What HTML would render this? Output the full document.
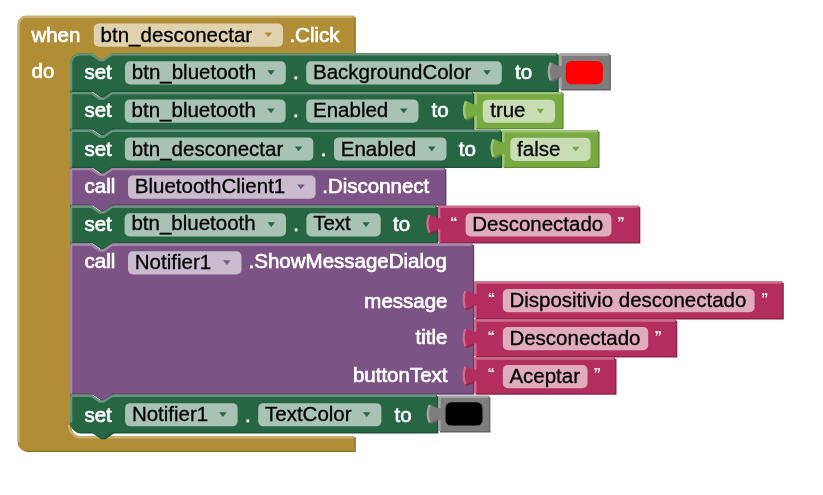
<!DOCTYPE html>
<html><head><meta charset="utf-8"><style>
html,body{margin:0;padding:0;background:#fff;}
body{width:823px;height:495px;overflow:hidden;}
svg{display:block;font-family:"Liberation Sans",sans-serif;filter:blur(0.45px);}
</style></head><body>
<svg width="823" height="495" viewBox="0 0 823 495">
<path d="M 17.6,24.3 A 8.5,8.5 0 0,1 26.1,15.8 H 354.4 V 53.2 H 112.5 l -8.4,5.8 -4.2,0 -8.4,-5.8 H 80 A 10,10 0 0,0 70,63.2 V 425 A 11.2,11.2 0 0,0 81.2,436.2 H 354.4 V 450.7 H 26.1 A 8.5,8.5 0 0,1 17.6,442.2 Z" fill="#8E722A" transform="translate(1.4,1.4)"/>
<path d="M 17.6,24.3 A 8.5,8.5 0 0,1 26.1,15.8 H 354.4 V 53.2 H 112.5 l -8.4,5.8 -4.2,0 -8.4,-5.8 H 80 A 10,10 0 0,0 70,63.2 V 425 A 11.2,11.2 0 0,0 81.2,436.2 H 354.4 V 450.7 H 26.1 A 8.5,8.5 0 0,1 17.6,442.2 Z" fill="#B18E35"/>
<path d="M 18.75,24.3 A 7.35,7.35 0 0,1 26.1,16.95 H 353.25 M 18.75,24.3 V 442.2 M 68.85,425 A 12.35,12.35 0 0,0 81.2,437.35 H 353.25" fill="none" stroke="#C8B072" stroke-width="2.3"/>
<text x="31.4" y="41.6" fill="#fff" font-size="20.5" stroke="#fff" stroke-width="0.65">when</text>
<rect x="93.8" y="23.5" width="189.2" height="23.2" rx="5" ry="5" fill="#fff" fill-opacity="0.6"/>
<text x="100.6" y="41.7" fill="#000" font-size="20.5" stroke="#000" stroke-width="0.3">btn_desconectar</text>
<path d="M 264.5,32.5 h 7.6 l -3.8,4.8 z" fill="#B18E35"/>
<text x="289.4" y="41.6" fill="#fff" font-size="20.5" stroke="#fff" stroke-width="0.65">.Click</text>
<text x="31.6" y="78.4" fill="#fff" font-size="20.5" stroke="#fff" stroke-width="0.65">do</text>
<path d="M 70,63.2 A 10,10 0 0,1 80,53.2 H 91.5 l 8.4,5.8 4.2,0 8.4,-5.8 H 557.4 V 90.55 H 112.5 l -8.4,5.8 -4.2,0 -8.4,-5.8 H 70 Z" fill="#1E5236" transform="translate(1.4,1.4)"/>
<path d="M 70,63.2 A 10,10 0 0,1 80,53.2 H 91.5 l 8.4,5.8 4.2,0 8.4,-5.8 H 557.4 V 90.55 H 112.5 l -8.4,5.8 -4.2,0 -8.4,-5.8 H 70 Z" fill="#266643"/>
<path d="M 71.15,63.2 A 8.85,8.85 0 0,1 80,54.35 H 91.2 l 8.6,5.8 3.8,0 8.6,-5.8 H 556.25 M 71.15,63.2 V 90.55" fill="none" stroke="#67947B" stroke-width="2.3"/>
<text x="84.4" y="79.4" fill="#fff" font-size="20.5" stroke="#fff" stroke-width="0.65">set</text>
<rect x="125" y="61.2" width="160.8" height="23.2" rx="5" ry="5" fill="#fff" fill-opacity="0.6"/>
<text x="131.8" y="79.4" fill="#000" font-size="20.5" stroke="#000" stroke-width="0.3">btn_bluetooth</text>
<path d="M 267.3,70.2 h 7.6 l -3.8,4.8 z" fill="#266643"/>
<text x="293.1" y="79.4" fill="#fff" font-size="20.5" stroke="#fff" stroke-width="0.65">.</text>
<rect x="306.2" y="61.2" width="195.6" height="23.2" rx="5" ry="5" fill="#fff" fill-opacity="0.6"/>
<text x="313" y="79.4" fill="#000" font-size="20.5" stroke="#000" stroke-width="0.3">BackgroundColor</text>
<path d="M 483.3,70.2 h 7.6 l -3.8,4.8 z" fill="#266643"/>
<text x="515.1" y="79.4" fill="#fff" font-size="20.5" stroke="#fff" stroke-width="0.65">to</text>
<path d="M 559.4,53.6 H 609.5 V 89.1 H 559.4 V 77.5 L 558.2,77.5 L 550,81.1 Q 546,71.6 550,62.1 L 558.2,65.8 L 559.4,65.8 Z" fill="#646464" transform="translate(1.4,1.4)"/>
<path d="M 559.4,53.6 H 609.5 V 89.1 H 559.4 V 77.5 L 558.2,77.5 L 550,81.1 Q 546,71.6 550,62.1 L 558.2,65.8 L 559.4,65.8 Z" fill="#7D7D7D"/>
<path d="M 560.55,89.1 V 77.5 M 560.55,65.8 V 54.75 H 608.35 M 550.6,63 Q 547,71.6 550.6,80.2" fill="none" stroke="#A4A4A4" stroke-width="2.3"/>
<rect x="565.8" y="61" width="37" height="23.2" rx="5.6" ry="5.6" fill="#FF0000"/>
<path d="M 70,91.95 H 91.5 l 8.4,5.8 4.2,0 8.4,-5.8 H 473.2 V 128.4 H 112.5 l -8.4,5.8 -4.2,0 -8.4,-5.8 H 70 Z" fill="#1E5236" transform="translate(1.4,1.4)"/>
<path d="M 70,91.95 H 91.5 l 8.4,5.8 4.2,0 8.4,-5.8 H 473.2 V 128.4 H 112.5 l -8.4,5.8 -4.2,0 -8.4,-5.8 H 70 Z" fill="#266643"/>
<path d="M 71.15,93.1 H 91.2 l 8.6,5.8 3.8,0 8.6,-5.8 H 472.05 M 71.15,93.1 V 128.4" fill="none" stroke="#67947B" stroke-width="2.3"/>
<text x="84.4" y="117.05" fill="#fff" font-size="20.5" stroke="#fff" stroke-width="0.65">set</text>
<rect x="124.8" y="99.55" width="160.8" height="23.2" rx="5" ry="5" fill="#fff" fill-opacity="0.6"/>
<text x="131.6" y="116.55" fill="#000" font-size="20.5" stroke="#000" stroke-width="0.3">btn_bluetooth</text>
<path d="M 267.1,108.55 h 7.6 l -3.8,4.8 z" fill="#266643"/>
<text x="293.1" y="117.05" fill="#fff" font-size="20.5" stroke="#fff" stroke-width="0.65">.</text>
<rect x="306.2" y="99.55" width="112.3" height="23.2" rx="5" ry="5" fill="#fff" fill-opacity="0.6"/>
<text x="313" y="116.55" fill="#000" font-size="20.5" stroke="#000" stroke-width="0.3">Enabled</text>
<path d="M 400,108.55 h 7.6 l -3.8,4.8 z" fill="#266643"/>
<text x="431.6" y="117.05" fill="#fff" font-size="20.5" stroke="#fff" stroke-width="0.65">to</text>
<path d="M 474.6,91.95 H 562.2 V 127.95 H 474.6 V 115.85 L 473.4,115.85 L 465.2,119.45 Q 461.2,109.95 465.2,100.45 L 473.4,104.15 L 474.6,104.15 Z" fill="#5F8934" transform="translate(1.4,1.4)"/>
<path d="M 474.6,91.95 H 562.2 V 127.95 H 474.6 V 115.85 L 473.4,115.85 L 465.2,119.45 Q 461.2,109.95 465.2,100.45 L 473.4,104.15 L 474.6,104.15 Z" fill="#77AB41"/>
<path d="M 475.75,127.95 V 115.85 M 475.75,104.15 V 93.1 H 561.05 M 465.8,101.35 Q 462.2,109.95 465.8,118.55" fill="none" stroke="#A0C47A" stroke-width="2.3"/>
<rect x="482.8" y="99.65" width="72.2" height="23.2" rx="5" ry="5" fill="#fff" fill-opacity="0.6"/>
<text x="490.2" y="116.75" fill="#000" font-size="20.5" stroke="#000" stroke-width="0.3">true</text>
<path d="M 536.5,108.65 h 7.6 l -3.8,4.8 z" fill="#77AB41"/>
<path d="M 70,129.8 H 91.5 l 8.4,5.8 4.2,0 8.4,-5.8 H 500.8 V 166.5 H 112.5 l -8.4,5.8 -4.2,0 -8.4,-5.8 H 70 Z" fill="#1E5236" transform="translate(1.4,1.4)"/>
<path d="M 70,129.8 H 91.5 l 8.4,5.8 4.2,0 8.4,-5.8 H 500.8 V 166.5 H 112.5 l -8.4,5.8 -4.2,0 -8.4,-5.8 H 70 Z" fill="#266643"/>
<path d="M 71.15,130.95 H 91.2 l 8.6,5.8 3.8,0 8.6,-5.8 H 499.65 M 71.15,130.95 V 166.5" fill="none" stroke="#67947B" stroke-width="2.3"/>
<text x="84.4" y="155.9" fill="#fff" font-size="20.5" stroke="#fff" stroke-width="0.65">set</text>
<rect x="124.9" y="137.4" width="188.4" height="23.2" rx="5" ry="5" fill="#fff" fill-opacity="0.6"/>
<text x="131.7" y="155.6" fill="#000" font-size="20.5" stroke="#000" stroke-width="0.3">btn_desconectar</text>
<path d="M 294.8,146.4 h 7.6 l -3.8,4.8 z" fill="#266643"/>
<text x="320.8" y="155.9" fill="#fff" font-size="20.5" stroke="#fff" stroke-width="0.65">.</text>
<rect x="334" y="137.4" width="112.5" height="23.2" rx="5" ry="5" fill="#fff" fill-opacity="0.6"/>
<text x="340.8" y="155.6" fill="#000" font-size="20.5" stroke="#000" stroke-width="0.3">Enabled</text>
<path d="M 428,146.4 h 7.6 l -3.8,4.8 z" fill="#266643"/>
<text x="458.8" y="155.9" fill="#fff" font-size="20.5" stroke="#fff" stroke-width="0.65">to</text>
<path d="M 502.2,130.1 H 598.2 V 166.7 H 502.2 V 154 L 501,154 L 492.8,157.6 Q 488.8,148.1 492.8,138.6 L 501,142.3 L 502.2,142.3 Z" fill="#5F8934" transform="translate(1.4,1.4)"/>
<path d="M 502.2,130.1 H 598.2 V 166.7 H 502.2 V 154 L 501,154 L 492.8,157.6 Q 488.8,148.1 492.8,138.6 L 501,142.3 L 502.2,142.3 Z" fill="#77AB41"/>
<path d="M 503.35,166.7 V 154 M 503.35,142.3 V 131.25 H 597.05 M 493.4,139.5 Q 489.8,148.1 493.4,156.7" fill="none" stroke="#A0C47A" stroke-width="2.3"/>
<rect x="510.3" y="137.8" width="80.2" height="23.2" rx="5" ry="5" fill="#fff" fill-opacity="0.6"/>
<text x="517.1" y="155.6" fill="#000" font-size="20.5" stroke="#000" stroke-width="0.3">false</text>
<path d="M 572,146.8 h 7.6 l -3.8,4.8 z" fill="#77AB41"/>
<path d="M 70,167.9 H 91.5 l 8.4,5.8 4.2,0 8.4,-5.8 H 445 V 204.3 H 112.5 l -8.4,5.8 -4.2,0 -8.4,-5.8 H 70 Z" fill="#63426A" transform="translate(1.4,1.4)"/>
<path d="M 70,167.9 H 91.5 l 8.4,5.8 4.2,0 8.4,-5.8 H 445 V 204.3 H 112.5 l -8.4,5.8 -4.2,0 -8.4,-5.8 H 70 Z" fill="#7C5385"/>
<path d="M 71.15,169.05 H 91.2 l 8.6,5.8 3.8,0 8.6,-5.8 H 443.85 M 71.15,169.05 V 204.3" fill="none" stroke="#A387AA" stroke-width="2.3"/>
<text x="84.6" y="193.25" fill="#fff" font-size="20.5" stroke="#fff" stroke-width="0.65">call</text>
<rect x="128" y="175.5" width="187.6" height="23.2" rx="5" ry="5" fill="#fff" fill-opacity="0.6"/>
<text x="134.8" y="193.4" fill="#000" font-size="20.5" stroke="#000" stroke-width="0.3">BluetoothClient1</text>
<path d="M 297.1,184.5 h 7.6 l -3.8,4.8 z" fill="#7C5385"/>
<text x="322.2" y="193.25" fill="#fff" font-size="20.5" stroke="#fff" stroke-width="0.65">.Disconnect</text>
<path d="M 70,205.7 H 91.5 l 8.4,5.8 4.2,0 8.4,-5.8 H 436.6 V 242.2 H 112.5 l -8.4,5.8 -4.2,0 -8.4,-5.8 H 70 Z" fill="#1E5236" transform="translate(1.4,1.4)"/>
<path d="M 70,205.7 H 91.5 l 8.4,5.8 4.2,0 8.4,-5.8 H 436.6 V 242.2 H 112.5 l -8.4,5.8 -4.2,0 -8.4,-5.8 H 70 Z" fill="#266643"/>
<path d="M 71.15,206.85 H 91.2 l 8.6,5.8 3.8,0 8.6,-5.8 H 435.45 M 71.15,206.85 V 242.2" fill="none" stroke="#67947B" stroke-width="2.3"/>
<text x="84.4" y="230.8" fill="#fff" font-size="20.5" stroke="#fff" stroke-width="0.65">set</text>
<rect x="124.6" y="213.3" width="161.4" height="23.2" rx="5" ry="5" fill="#fff" fill-opacity="0.6"/>
<text x="131.4" y="230.3" fill="#000" font-size="20.5" stroke="#000" stroke-width="0.3">btn_bluetooth</text>
<path d="M 267.5,222.3 h 7.6 l -3.8,4.8 z" fill="#266643"/>
<text x="293.3" y="230.8" fill="#fff" font-size="20.5" stroke="#fff" stroke-width="0.65">.</text>
<rect x="306.4" y="213.3" width="74.3" height="23.2" rx="5" ry="5" fill="#fff" fill-opacity="0.6"/>
<text x="313.2" y="230.3" fill="#000" font-size="20.5" stroke="#000" stroke-width="0.3">Text</text>
<path d="M 362.2,222.3 h 7.6 l -3.8,4.8 z" fill="#266643"/>
<text x="393.1" y="230.8" fill="#fff" font-size="20.5" stroke="#fff" stroke-width="0.65">to</text>
<path d="M 438,205.7 H 638.9 V 242 H 438 V 229.6 L 436.8,229.6 L 428.6,233.2 Q 424.6,223.7 428.6,214.2 L 436.8,217.9 L 438,217.9 Z" fill="#8F244B" transform="translate(1.4,1.4)"/>
<path d="M 438,205.7 H 638.9 V 242 H 438 V 229.6 L 436.8,229.6 L 428.6,233.2 Q 424.6,223.7 428.6,214.2 L 436.8,217.9 L 438,217.9 Z" fill="#B32D5E"/>
<path d="M 439.15,242 V 229.6 M 439.15,217.9 V 206.85 H 637.75 M 429.2,215.1 Q 425.6,223.7 429.2,232.3" fill="none" stroke="#CA6C8E" stroke-width="2.3"/>
<text x="450.2" y="226.7" fill="#fff" font-size="14.5" font-weight="bold">“</text>
<rect x="465.6" y="213.3" width="145.8" height="23.2" rx="5" ry="5" fill="#fff" fill-opacity="0.6"/>
<text x="472.2" y="230.7" fill="#000" font-size="20.5" stroke="#000" stroke-width="0.3">Desconectado</text>
<text x="617.3" y="226.7" fill="#fff" font-size="14.5" font-weight="bold">”</text>
<path d="M 70,243.6 H 91.5 l 8.4,5.8 4.2,0 8.4,-5.8 H 472.8 V 393.35 H 112.5 l -8.4,5.8 -4.2,0 -8.4,-5.8 H 70 Z" fill="#63426A" transform="translate(1.4,1.4)"/>
<path d="M 70,243.6 H 91.5 l 8.4,5.8 4.2,0 8.4,-5.8 H 472.8 V 393.35 H 112.5 l -8.4,5.8 -4.2,0 -8.4,-5.8 H 70 Z" fill="#7C5385"/>
<path d="M 71.15,244.75 H 91.2 l 8.6,5.8 3.8,0 8.6,-5.8 H 471.65 M 71.15,244.75 V 393.35" fill="none" stroke="#A387AA" stroke-width="2.3"/>
<text x="84.6" y="267.9" fill="#fff" font-size="20.5" stroke="#fff" stroke-width="0.65">call</text>
<rect x="128" y="251.2" width="113.5" height="23.2" rx="5" ry="5" fill="#fff" fill-opacity="0.6"/>
<text x="134.8" y="268.8" fill="#000" font-size="20.5" stroke="#000" stroke-width="0.3">Notifier1</text>
<path d="M 223,260.2 h 7.6 l -3.8,4.8 z" fill="#7C5385"/>
<text x="248.6" y="267.9" fill="#fff" font-size="20.5" stroke="#fff" stroke-width="0.65">.ShowMessageDialog</text>
<text x="447.5" y="307.6" fill="#fff" font-size="20.5" text-anchor="end" stroke="#fff" stroke-width="0.65">message</text>
<text x="447.5" y="344.2" fill="#fff" font-size="20.5" text-anchor="end" stroke="#fff" stroke-width="0.65">title</text>
<text x="447.5" y="382" fill="#fff" font-size="20.5" text-anchor="end" stroke="#fff" stroke-width="0.65">buttonText</text>
<path d="M 474.2,281.5 H 782.4 V 318.1 H 474.2 V 305.4 L 473,305.4 L 464.8,309 Q 460.8,299.5 464.8,290 L 473,293.7 L 474.2,293.7 Z" fill="#8F244B" transform="translate(1.4,1.4)"/>
<path d="M 474.2,281.5 H 782.4 V 318.1 H 474.2 V 305.4 L 473,305.4 L 464.8,309 Q 460.8,299.5 464.8,290 L 473,293.7 L 474.2,293.7 Z" fill="#B32D5E"/>
<path d="M 475.35,318.1 V 305.4 M 475.35,293.7 V 282.65 H 781.25 M 465.4,290.9 Q 461.8,299.5 465.4,308.1" fill="none" stroke="#CA6C8E" stroke-width="2.3"/>
<text x="487.7" y="302.5" fill="#fff" font-size="14.5" font-weight="bold">“</text>
<rect x="502.8" y="289.1" width="251.8" height="23.2" rx="5" ry="5" fill="#fff" fill-opacity="0.6"/>
<text x="509.4" y="307.3" fill="#000" font-size="20.5" stroke="#000" stroke-width="0.3">Dispositivio desconectado</text>
<text x="761" y="302.5" fill="#fff" font-size="14.5" font-weight="bold">”</text>
<path d="M 474.2,319.5 H 675.9 V 356 H 474.2 V 343.4 L 473,343.4 L 464.8,347 Q 460.8,337.5 464.8,328 L 473,331.7 L 474.2,331.7 Z" fill="#8F244B" transform="translate(1.4,1.4)"/>
<path d="M 474.2,319.5 H 675.9 V 356 H 474.2 V 343.4 L 473,343.4 L 464.8,347 Q 460.8,337.5 464.8,328 L 473,331.7 L 474.2,331.7 Z" fill="#B32D5E"/>
<path d="M 475.35,356 V 343.4 M 475.35,331.7 V 320.65 H 674.75 M 465.4,328.9 Q 461.8,337.5 465.4,346.1" fill="none" stroke="#CA6C8E" stroke-width="2.3"/>
<text x="487.6" y="340.5" fill="#fff" font-size="14.5" font-weight="bold">“</text>
<rect x="502.8" y="327.1" width="145.4" height="23.2" rx="5" ry="5" fill="#fff" fill-opacity="0.6"/>
<text x="509.4" y="345.3" fill="#000" font-size="20.5" stroke="#000" stroke-width="0.3">Desconectado</text>
<text x="654.5" y="340.5" fill="#fff" font-size="14.5" font-weight="bold">”</text>
<path d="M 474.2,357.4 H 615.1 V 393.35 H 474.2 V 381.3 L 473,381.3 L 464.8,384.9 Q 460.8,375.4 464.8,365.9 L 473,369.6 L 474.2,369.6 Z" fill="#8F244B" transform="translate(1.4,1.4)"/>
<path d="M 474.2,357.4 H 615.1 V 393.35 H 474.2 V 381.3 L 473,381.3 L 464.8,384.9 Q 460.8,375.4 464.8,365.9 L 473,369.6 L 474.2,369.6 Z" fill="#B32D5E"/>
<path d="M 475.35,393.35 V 381.3 M 475.35,369.6 V 358.55 H 613.95 M 465.4,366.8 Q 461.8,375.4 465.4,384" fill="none" stroke="#CA6C8E" stroke-width="2.3"/>
<text x="487.6" y="378.4" fill="#fff" font-size="14.5" font-weight="bold">“</text>
<rect x="502.8" y="365" width="84.7" height="23.2" rx="5" ry="5" fill="#fff" fill-opacity="0.6"/>
<text x="509.4" y="382.7" fill="#000" font-size="20.5" stroke="#000" stroke-width="0.3">Aceptar</text>
<text x="593.4" y="378.4" fill="#fff" font-size="14.5" font-weight="bold">”</text>
<path d="M 70,394.75 H 91.5 l 8.4,5.8 4.2,0 8.4,-5.8 H 437 V 432.1 H 112.5 l -8.4,5.8 -4.2,0 -8.4,-5.8 H 79.5 A 9.5,9.5 0 0,1 70,422.6 Z" fill="#1E5236" transform="translate(1.4,1.4)"/>
<path d="M 70,394.75 H 91.5 l 8.4,5.8 4.2,0 8.4,-5.8 H 437 V 432.1 H 112.5 l -8.4,5.8 -4.2,0 -8.4,-5.8 H 79.5 A 9.5,9.5 0 0,1 70,422.6 Z" fill="#266643"/>
<path d="M 71.15,395.9 H 91.2 l 8.6,5.8 3.8,0 8.6,-5.8 H 435.85 M 71.15,395.9 V 422.6" fill="none" stroke="#67947B" stroke-width="2.3"/>
<text x="84.4" y="421.75" fill="#fff" font-size="20.5" stroke="#fff" stroke-width="0.65">set</text>
<rect x="125.1" y="403.15" width="112.5" height="23.2" rx="5" ry="5" fill="#fff" fill-opacity="0.6"/>
<text x="131.9" y="421.35" fill="#000" font-size="20.5" stroke="#000" stroke-width="0.3">Notifier1</text>
<path d="M 219.1,412.15 h 7.6 l -3.8,4.8 z" fill="#266643"/>
<text x="245.1" y="421.75" fill="#fff" font-size="20.5" stroke="#fff" stroke-width="0.65">.</text>
<rect x="258.2" y="403.15" width="123.2" height="23.2" rx="5" ry="5" fill="#fff" fill-opacity="0.6"/>
<text x="265" y="421.35" fill="#000" font-size="20.5" stroke="#000" stroke-width="0.3">TextColor</text>
<path d="M 362.9,412.15 h 7.6 l -3.8,4.8 z" fill="#266643"/>
<text x="394.5" y="421.75" fill="#fff" font-size="20.5" stroke="#fff" stroke-width="0.65">to</text>
<path d="M 438.4,395.75 H 489 V 431.05 H 438.4 V 419.65 L 437.2,419.65 L 429,423.25 Q 425,413.75 429,404.25 L 437.2,407.95 L 438.4,407.95 Z" fill="#646464" transform="translate(1.4,1.4)"/>
<path d="M 438.4,395.75 H 489 V 431.05 H 438.4 V 419.65 L 437.2,419.65 L 429,423.25 Q 425,413.75 429,404.25 L 437.2,407.95 L 438.4,407.95 Z" fill="#7D7D7D"/>
<path d="M 439.55,431.05 V 419.65 M 439.55,407.95 V 396.9 H 487.85 M 429.6,405.15 Q 426,413.75 429.6,422.35" fill="none" stroke="#A4A4A4" stroke-width="2.3"/>
<rect x="445.5" y="402.35" width="37" height="23.2" rx="5.6" ry="5.6" fill="#000000"/>
</svg>
</body></html>
